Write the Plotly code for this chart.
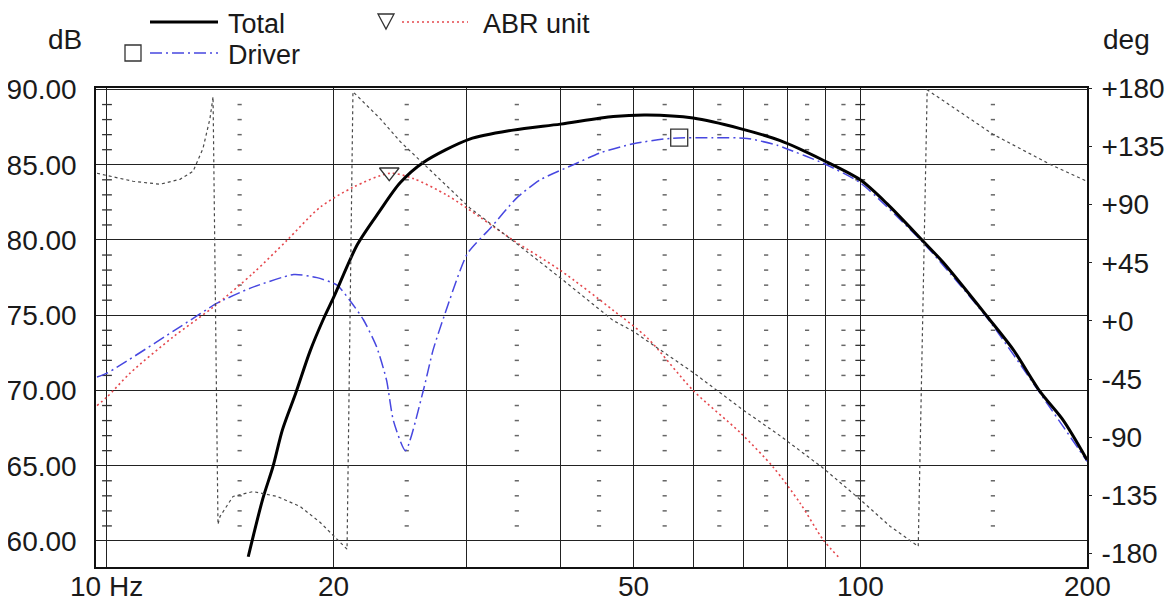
import math
import plotly.graph_objects as go

# ---------------- data ----------------
total_freq = [15.4, 16.1, 16.6, 17.1, 17.8, 18.6, 19.4, 20.0, 21.5, 23.0, 24.5, 26.3, 30.3, 34.6,
              40.0, 47.0, 52.1, 60.0, 69.3, 78.3, 89.3, 100.0, 108.6, 121.3, 128.9, 147.5, 159.7,
              173.4, 186.1, 200.0]
total_db = [58.95, 62.8, 64.9, 67.4, 69.8, 72.6, 74.8, 76.2, 79.7, 81.9, 83.8, 85.15, 86.7, 87.3,
            87.7, 88.2, 88.3, 88.1, 87.4, 86.6, 85.3, 84.0, 82.4, 79.9, 78.5, 74.9, 72.7,
            69.9, 68.0, 65.4]

driver_freq = [9.7, 10.0, 13.3, 14.0, 15.5, 17.7, 19.0, 20.2, 21.0, 21.9, 22.8, 23.5, 24.0, 24.9,
               26.3, 27.1, 28.1, 30.1, 32.3, 35.0, 37.6, 41.6, 45.2, 50.0, 55.9, 63.8, 70.8, 77.6,
               79.5, 89.3, 100.0, 121.3, 147.5, 173.4, 200.0]
driver_db = [70.9, 71.15, 75.1, 75.8, 76.8, 77.7, 77.5, 77.0, 76.0, 74.7, 72.9, 70.7, 68.0, 66.0,
             70.0, 72.7, 75.1, 79.1, 80.8, 82.8, 84.0, 85.0, 85.8, 86.4, 86.75, 86.8, 86.75, 86.3,
             86.1, 85.1, 83.8, 79.8, 74.8, 69.8, 65.3]

abr_freq = [9.7, 10.0, 10.73, 12.23, 13.83, 15.63, 17.34, 19.18, 21.21, 23.75, 25.49, 28.29, 31.29,
            34.62, 39.96, 46.99, 52.14, 60.01, 69.28, 76.65, 83.24, 89.31, 93.5]
abr_db = [69.0, 69.56, 71.15, 73.54, 75.53, 77.79, 79.98, 82.17, 83.5, 84.43, 84.09, 82.97, 81.51,
          79.98, 77.99, 75.33, 73.5, 70.0, 67.2, 64.9, 62.5, 60.07, 58.95]

phase_freq = [9.7, 10.83, 11.76, 12.5, 13.01, 13.41, 13.7, 13.83, 14.04, 14.13, 14.7, 15.63, 16.82,
              18.04, 19.18, 20.83, 21.21, 23.05, 24.5, 26.29, 30.34, 34.62, 39.96, 46.99, 49.95,
              60.01, 69.92, 78.3, 89.31, 100.0, 109.6, 119.4, 122.7, 150.2, 178.7, 200.0]
phase_deg = [114.3, 108.1, 105.8, 109.6, 115.8, 133.5, 156.6, 173.5, -157.5, -151.3, -135.9, -132.1,
             -135.9, -143.6, -155.9, -176.7, 177.4, 156.6, 138.9, 122.0, 87.3, 61.9, 33.4, 0.3, -8.0,
             -40.0, -69.0, -89.0, -114.0, -138.3, -159.1, -174.5, 178.9, 144.3, 121.2, 108.1]

driver_marker = ([57.5], [86.8])
abr_marker = ([23.7], [84.5])

x_grid_vals = [10, 20, 30, 40, 50, 60, 70, 80, 90, 100, 200]
x_label_vals = [10, 20, 50, 100, 200]
x_label_text = ["10 Hz", "20", "50", "100", "200"]
db_ticks = [60, 65, 70, 75, 80, 85, 90]
db_tick_text = ["60.00", "65.00", "70.00", "75.00", "80.00", "85.00", "90.00"]
deg_ticks = [-180, -135, -90, -45, 0, 45, 90, 135, 180]
deg_tick_text = ["-180", "-135", "-90", "-45", "+0", "+45", "+90", "+135", "+180"]
dot_cols = [15, 25, 35, 45, 55, 65, 75, 85, 95, 150]
decade_cols = [10, 100]
minor_db = [d for d in range(61, 90) if d % 5]

# ---------------- geometry ----------------
# The page body has an 8px margin, so the figure is drawn 8px smaller and lands
# at the reference's pixel positions.
OFF = 8
W, H = 1173 - OFF, 604 - OFF
ML, MR, MT, MB = 96 - OFF, 86, 88 - OFF, 37
PW, PH = W - ML - MR, H - MT - MB


def px(x):  # reference-page pixel -> paper
    return (x - OFF - ML) / PW


def py(y):
    return (H - MB - (y - OFF)) / PH


FONT = "Arial, Liberation Sans, sans-serif"
TXT = "#1a1a1a"
FS = 28
FS_LEG = 27
BLUE = "#4747e0"
RED = "#e5484d"

fig = go.Figure()

# grid decoration: dotted columns and decade tick marks
fig.add_trace(go.Scatter(
    x=[c for c in dot_cols for _ in minor_db], y=[d for _ in dot_cols for d in minor_db],
    mode="markers", marker=dict(symbol="line-ew", size=3, line=dict(width=1.5, color="#666")),
    hoverinfo="skip", showlegend=False))
fig.add_trace(go.Scatter(
    x=[c for c in decade_cols for _ in minor_db], y=[d for _ in decade_cols for d in minor_db],
    mode="markers", marker=dict(symbol="line-ew", size=7, line=dict(width=1.3, color="#333")),
    hoverinfo="skip", showlegend=False))

# phase (right axis)
fig.add_trace(go.Scatter(x=phase_freq, y=phase_deg, yaxis="y2", mode="lines",
                         line=dict(color="#4a4a4a", width=1.2, dash="3px,3px"),
                         showlegend=False, name="Phase"))
# ABR unit
fig.add_trace(go.Scatter(x=abr_freq, y=abr_db, mode="lines",
                         line=dict(color=RED, width=1.6, dash="2px,3px", shape="spline",
                                   smoothing=0.8),
                         showlegend=False, name="ABR unit"))
# Driver
fig.add_trace(go.Scatter(x=driver_freq, y=driver_db, mode="lines",
                         line=dict(color=BLUE, width=1.5, dash="12px,4px,2px,4px",
                                   shape="spline", smoothing=0.6),
                         showlegend=False, name="Driver"))
# Total
fig.add_trace(go.Scatter(x=total_freq, y=total_db, mode="lines",
                         line=dict(color="#000000", width=3, shape="spline", smoothing=0.8),
                         showlegend=False, name="Total"))
# curve markers
fig.add_trace(go.Scatter(x=abr_marker[0], y=abr_marker[1], mode="markers",
                         marker=dict(symbol="triangle-down-open", size=17, color="#333",
                                     line=dict(width=1.3, color="#333")),
                         showlegend=False, hoverinfo="skip"))
fig.add_trace(go.Scatter(x=driver_marker[0], y=driver_marker[1], mode="markers",
                         marker=dict(symbol="square-open", size=17, color="#333",
                                     line=dict(width=1.3, color="#333")),
                         showlegend=False, hoverinfo="skip"))

ROW1 = 22   # legend first row (centre, reference px)
ROW2 = 53   # legend second row
shapes = [
    # legend lines
    dict(type="line", xref="paper", yref="paper", x0=px(150), x1=px(218), y0=py(ROW1),
         y1=py(ROW1), line=dict(color="black", width=3)),
    dict(type="line", xref="paper", yref="paper", x0=px(150), x1=px(218), y0=py(ROW2),
         y1=py(ROW2), line=dict(color=BLUE, width=1.5, dash="12px,4px,2px,4px")),
    dict(type="line", xref="paper", yref="paper", x0=px(402), x1=px(468), y0=py(ROW1),
         y1=py(ROW1), line=dict(color=RED, width=1.6, dash="2px,3px")),
    dict(type="rect", xref="paper", yref="paper", x0=px(125), x1=px(141), y0=py(ROW2 - 8),
         y1=py(ROW2 + 8), line=dict(color="#333", width=1.3)),
    dict(type="path", xref="paper", yref="paper",
         path="M {} {} L {} {} L {} {} Z".format(px(378), py(ROW1 - 8), px(394), py(ROW1 - 8),
                                                 px(386), py(ROW1 + 7)),
         line=dict(color="#333", width=1.3)),
]

annotations = []


def label(text, x, y, anchor="left", size=FS_LEG):
    annotations.append(dict(text=text, xref="paper", yref="paper", x=px(x), y=py(y),
                            xanchor=anchor, yanchor="middle", showarrow=False,
                            font=dict(family=FONT, size=size, color=TXT)))


label("dB", 65, 40, "center", FS)
label("deg", 1126, 40, "center", FS)
label("Total", 226, ROW1 + 2)
label("Driver", 226, ROW2 + 2)
label("ABR unit", 481, ROW1 + 2)

# frequency labels under the axis (placed at the log-axis positions of the ticks)
for v, t in zip(x_label_vals, x_label_text):
    annotations.append(dict(text=t, xref="x", yref="paper", x=math.log10(v), y=py(586),
                            xanchor="center", yanchor="middle", showarrow=False,
                            font=dict(family=FONT, size=FS, color=TXT)))

axis_font = dict(family=FONT, size=FS, color=TXT)
fig.update_layout(
    width=W, height=H, margin=dict(l=ML, r=MR, t=MT, b=MB, autoexpand=False),
    paper_bgcolor="white", plot_bgcolor="white",
    shapes=shapes, annotations=annotations,
    xaxis=dict(type="log", range=[math.log10(9.67), math.log10(200)],
               tickmode="array", tickvals=x_grid_vals, showticklabels=False,
               showgrid=True, gridcolor="#222", gridwidth=1,
               showline=True, mirror=True, linecolor="#111", linewidth=1.5,
               ticks="", zeroline=False, automargin=False),
    yaxis=dict(range=[58.27, 90.1], tickmode="array", tickvals=db_ticks, ticktext=db_tick_text,
               showgrid=True, gridcolor="#222", gridwidth=1,
               showline=True, mirror=True, linecolor="#111", linewidth=1.5,
               ticks="", tickfont=axis_font, zeroline=False, ticklabelstandoff=12,
               automargin=False),
    yaxis2=dict(overlaying="y", side="right", range=[-190.5, 180.3],
                tickmode="array", tickvals=deg_ticks, ticktext=deg_tick_text,
                showgrid=False, zeroline=False, showline=False,
                ticks="outside", ticklen=4, tickcolor="#222", tickwidth=1,
                tickfont=axis_font, ticklabelstandoff=4, automargin=False),
)

fig.write_html("out.html")
